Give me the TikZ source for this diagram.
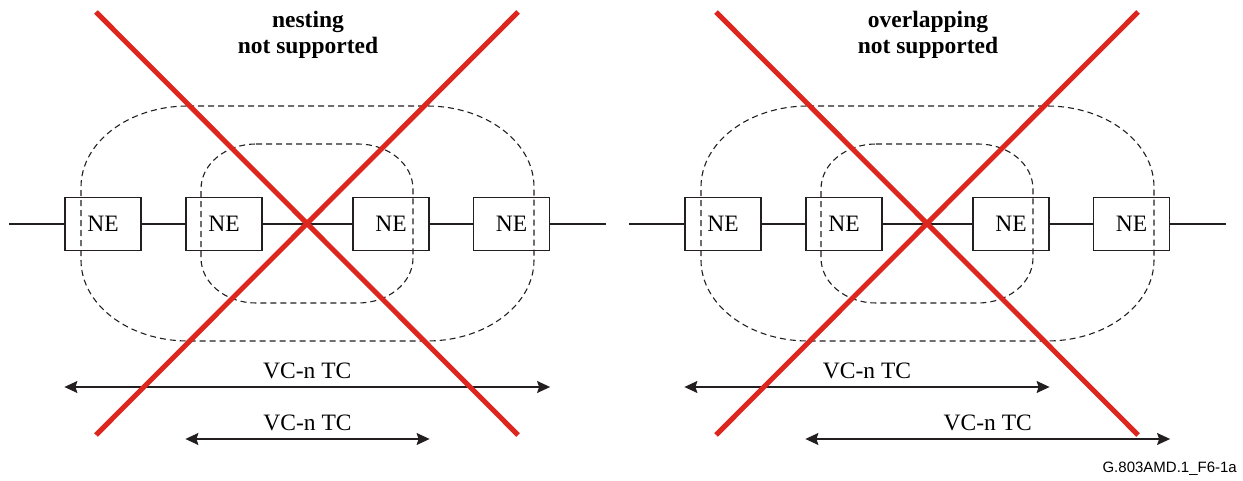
\documentclass[tikz,border=0pt]{standalone}
\usepackage{fontspec}
\setmainfont{Liberation Serif}
\newfontfamily\figsans{Liberation Sans}
\usetikzlibrary{arrows.meta}
\definecolor{ink}{RGB}{35,31,32}
\definecolor{xred}{RGB}{221,39,30}
\tikzset{
	nebox/.style = {rectangle, draw=ink, line width=1.2pt, inner sep=0pt,
		minimum width=76pt, minimum height=53pt, font=\fontsize{23.5}{26}\selectfont},
	netline/.style = {draw=ink, line width=1.2pt},
	ring/.style = {draw=ink, line width=1.1pt, dash pattern=on 6pt off 4pt},
	xline/.style = {draw=xred, line width=5pt},
	heading/.style = {align=center, inner sep=0pt,
		font=\bfseries\fontsize{23.5}{26}\selectfont},
	tcarrow/.style = {draw=ink, line width=1.2pt,
		{Stealth[length=13pt,width=12pt,inset=2pt]}-{Stealth[length=13pt,width=12pt,inset=2pt]}},
	tclabel/.style = {above=8pt, inner sep=0pt, font=\fontsize{23.5}{26}\selectfont}
}

\begin{document}
\begin{tikzpicture}[x=1pt,y=1pt]
\useasboundingbox (0,0) rectangle (1243,480);
\foreach \p/\dx/\title/\fa/\fb/\sa/\sb in {L/0/nesting/1/4/2/3, R/620/overlapping/1/3/2/4}{
\begin{scope}[xshift=\dx pt]
	% network elements on the line
	\coordinate (\p0) at (9,256);
	\coordinate (\p5) at (606,256);
	\foreach \i/\x in {1/103,2/224,3/391,4/511.5}
		\node [nebox] (\p\i) at (\x,256) {NE};
	\foreach \a/\b in {0/1,1/2,2/3,3/4,4/5}
		\draw [netline] (\p\a) -- (\p\b);
	% tandem connection domains
	\draw [ring] (188,374) -- (427,374) arc[start angle=90,end angle=0,x radius=107,y radius=81]
		-- (534,220) arc[start angle=0,end angle=-90,x radius=107,y radius=81]
		-- (188,139) arc[start angle=270,end angle=180,x radius=107,y radius=81]
		-- (81,293) arc[start angle=180,end angle=90,x radius=107,y radius=81] -- cycle;
	\draw [ring] (256,336) -- (358,336) arc[start angle=90,end angle=0,x radius=55,y radius=45]
		-- (413,222) arc[start angle=0,end angle=-90,x radius=55,y radius=45]
		-- (256,177) arc[start angle=270,end angle=180,x radius=55,y radius=45]
		-- (201,291) arc[start angle=180,end angle=90,x radius=55,y radius=45] -- cycle;
	% extents
	\coordinate (\p-a1) at (\p\fa.west |- 0,93);
	\coordinate (\p-b1) at (\p\fb.east |- 0,93);
	\coordinate (\p-a2) at (\p\sa.west |- 0,41);
	\coordinate (\p-b2) at (\p\sb.east |- 0,41);
	\draw [tcarrow] (\p-a1) -- node [tclabel] (\p-t1) {VC-n TC} (\p-b1);
	\draw [tcarrow] (\p-a2) -- node [tclabel] (\p-t2) {VC-n TC} (\p-b2);
	% crossed out
	\coordinate (\p-x1) at (96,468);
	\coordinate (\p-x2) at (518,45);
	\coordinate (\p-x3) at (518,468);
	\coordinate (\p-x4) at (96,45);
	\draw [xline] (\p-x1) -- (\p-x2);
	\draw [xline] (\p-x3) -- (\p-x4);
	\node [heading] (\p-head) at (308,445) {\title\\not supported};
\end{scope}
}
\node [font=\figsans\fontsize{15}{18}\selectfont, anchor=base east, inner sep=0pt]
	(figid) at (1237,8) {G.803AMD.1\_F6-1a};
\end{tikzpicture}
\end{document}
